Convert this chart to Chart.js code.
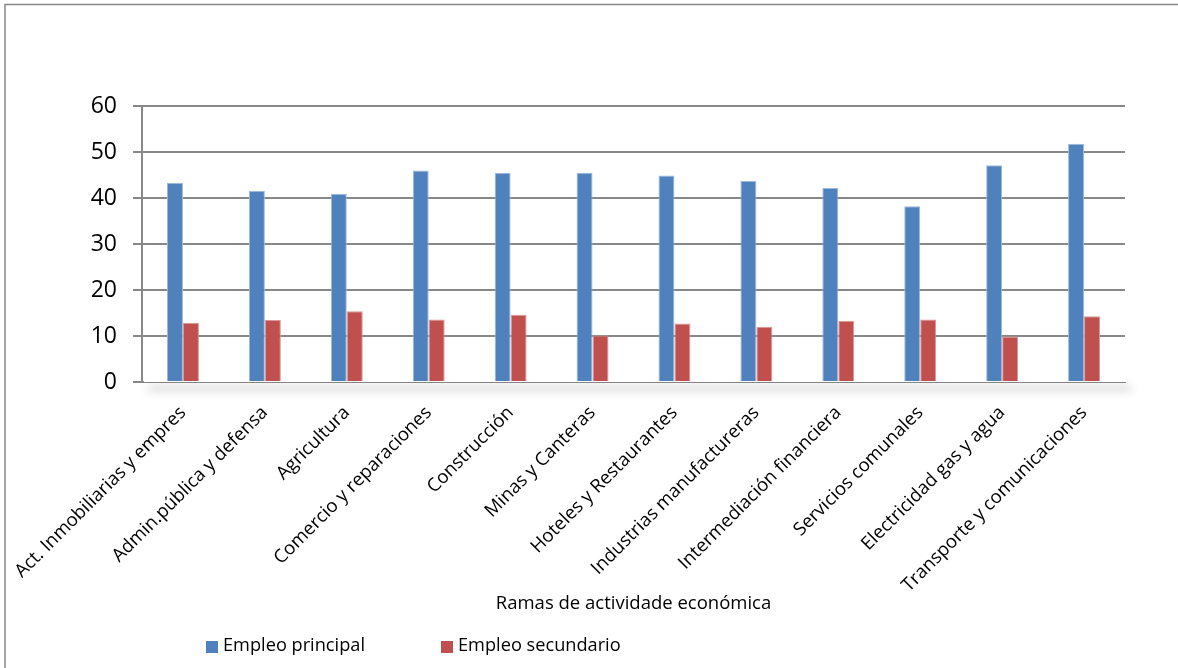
<!DOCTYPE html>
<html>
<head>
<meta charset="utf-8">
<script src="https://cdn.jsdelivr.net/npm/chart.js@4/dist/chart.umd.min.js"></script>
<style>
  html, body { margin: 0; padding: 0; background: #fff; }
  canvas { display: block; }
</style>
</head>
<body>
<canvas id="ramas" width="1178" height="668"></canvas>
<script>
const ramas = [
  'Act. Inmobiliarias y empres',
  'Admin.pública y defensa',
  'Agricultura',
  'Comercio y reparaciones',
  'Construcción',
  'Minas y Canteras',
  'Hoteles y Restaurantes',
  'Industrias manufactureras',
  'Intermediación financiera',
  'Servicios comunales',
  'Electricidad gas y agua',
  'Transporte y comunicaciones'
];
const empleoPrincipal = [43.3, 41.6, 40.9, 46.0, 45.5, 45.5, 44.9, 43.7, 42.2, 38.2, 47.1, 51.8];
const empleoSecundario = [12.9, 13.5, 15.4, 13.6, 14.6, 10.1, 12.7, 12.0, 13.3, 13.6, 9.9, 14.3];
const yTicks = [0, 10, 20, 30, 40, 50, 60];

const FONT = "'Open Sans', sans-serif";
const GRIS = '#888888';

// marco exterior y sombra bajo el eje horizontal
const marco = {
  id: 'marco',
  beforeDraw(chart) {
    const ctx = chart.ctx;
    ctx.save();
    ctx.strokeStyle = GRIS;
    ctx.lineWidth = 1.5;
    ctx.beginPath();
    ctx.moveTo(5, 700);
    ctx.lineTo(5, 4.5);
    ctx.lineTo(1200, 4.5);
    ctx.stroke();
    ctx.restore();
  },
  beforeDatasetsDraw(chart) {
    const {ctx, chartArea: a} = chart;
    ctx.save();
    ctx.shadowColor = 'rgba(0,0,0,0.3)';
    ctx.shadowBlur = 10;
    ctx.shadowOffsetX = 4;
    ctx.shadowOffsetY = 8;
    ctx.fillStyle = '#ffffff';
    ctx.fillRect(a.left + 2, a.bottom - 3, a.right - a.left, 3);
    ctx.restore();
  }
};

// leyenda dibujada a mano debajo del título del eje
const leyenda = {
  id: 'leyenda',
  afterDraw(chart) {
    const ctx = chart.ctx;
    const xs = [206, 441];
    ctx.save();
    ctx.font = '18.2px ' + FONT;
    ctx.textBaseline = 'middle';
    chart.data.datasets.forEach((ds, i) => {
      ctx.fillStyle = ds.backgroundColor;
      ctx.fillRect(xs[i], 641, 12, 12);
      ctx.fillStyle = '#000';
      ctx.fillText(ds.label, xs[i] + 17, 646);
    });
    ctx.restore();
  }
};

new Chart(document.getElementById('ramas').getContext('2d'), {
  type: 'bar',
  data: {
    labels: ramas,
    datasets: [{
      label: 'Empleo principal',
      data: empleoPrincipal,
      backgroundColor: '#4F81BD',
      borderColor: '#9DB9DC',
      borderWidth: 1,
      barPercentage: 1,
      categoryPercentage: 0.39
    }, {
      label: 'Empleo secundario',
      data: empleoSecundario,
      backgroundColor: '#C0504D',
      borderColor: '#DA9795',
      borderWidth: 1,
      barPercentage: 1,
      categoryPercentage: 0.39
    }]
  },
  options: {
    responsive: false,
    animation: false,
    layout: { padding: { top: 106, left: 0, right: 53, bottom: 48 } },
    plugins: {
      legend: { display: false },
      tooltip: { enabled: false }
    },
    scales: {
      x: {
        grid: { display: false },
        border: { display: true, color: GRIS, width: 2 },
        ticks: {
          color: '#000',
          font: { family: FONT, size: 18.5 },
          minRotation: 45,
          maxRotation: 45,
          autoSkip: false,
          padding: 12,
          labelOffset: 0
        },
        title: {
          display: true,
          text: 'Ramas de actividade económica',
          color: '#000',
          font: { family: FONT, size: 18.5 },
          padding: { top: 0, bottom: 5 }
        },
        afterFit(scale) { scale.height = 238; }
      },
      y: {
        min: 0,
        max: 60,
        afterBuildTicks(scale) { scale.ticks = yTicks.map(v => ({ value: v })); },
        grid: { color: GRIS, lineWidth: 2, tickLength: 9 },
        border: { display: true, color: GRIS, width: 2 },
        ticks: {
          color: '#000',
          font: { family: FONT, size: 23 },
          padding: 16
        },
        afterFit(scale) { scale.width = 142; }
      }
    }
  },
  plugins: [marco, leyenda]
});
</script>
</body>
</html>
